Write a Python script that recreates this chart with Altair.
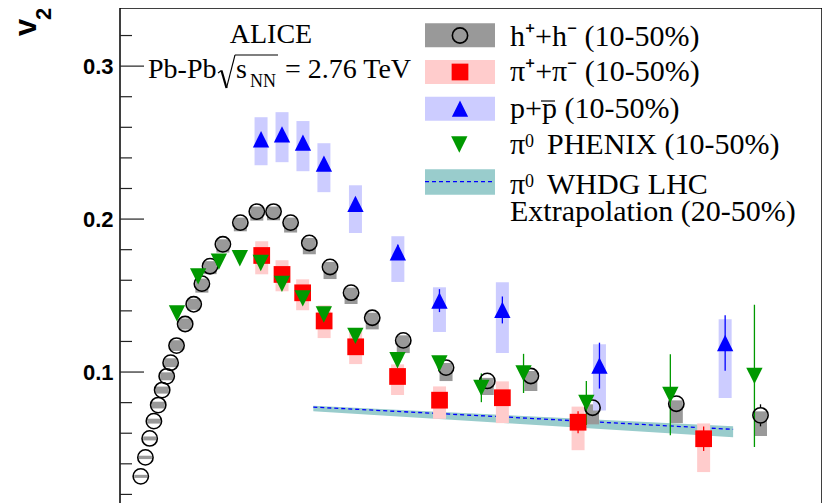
import altair as alt
import pandas as pd

# ---------------- data (pT in GeV/c, v2) ----------------
# charged hadrons h+ + h- (10-50%)
h_pt = [0.376, 0.487, 0.588, 0.689, 0.792, 0.886, 0.994, 1.088, 1.229, 1.434,
        1.638, 1.833, 2.028, 2.334, 2.750, 3.143, 3.542, 3.949, 4.395, 4.889,
        5.390, 5.895, 6.635, 7.655, 8.638, 9.677, 11.148, 13.146, 15.153]
h_v2 = [0.0318, 0.0442, 0.0566, 0.0679, 0.0784, 0.0882, 0.0972, 0.1061, 0.1173, 0.1314,
        0.1443, 0.1578, 0.1692, 0.1835, 0.1977, 0.2049, 0.2049, 0.1977, 0.1844, 0.1687,
        0.1519, 0.1355, 0.1207, 0.1029, 0.0942, 0.0974, 0.0767, 0.0793, 0.0717]
h_sys_dn = [0.0010, 0.0011, 0.0013, 0.0016, 0.0022, 0.0023, 0.0026, 0.0029, 0.0035, 0.0036,
            0.0036, 0.0059, 0.0052, 0.0054, 0.0057, 0.0059, 0.0057, 0.0065, 0.0074, 0.0079,
            0.0074, 0.0076, 0.0083, 0.0088, 0.0092, 0.0098, 0.0109, 0.0127, 0.0135]
h_sys_up = [0.0010, 0.0011, 0.0013, 0.0016, 0.0022, 0.0023, 0.0026, 0.0029, 0.0035, 0.0036,
            0.0036, 0.0033, 0.0033, 0.0033, 0.0033, 0.0033, 0.0033, 0.0033, 0.0033, 0.0033,
            0.0033, 0.0033, 0.0033, 0.0030, 0.0020, 0.0033, 0.0022, 0.0022, 0.0026]
h_err = [0.001, 0.001, 0.001, 0.001, 0.001, 0.001, 0.001, 0.001, 0.001, 0.001,
         0.001, 0.001, 0.001, 0.001, 0.001, 0.001, 0.001, 0.001, 0.001, 0.001,
         0.001, 0.001, 0.002, 0.002, 0.003, 0.003, 0.004, 0.005, 0.0072]

# pions pi+ + pi- (10-50%)
pi_pt = [3.260, 3.744, 4.236, 4.748, 5.500, 6.499, 7.500, 8.998, 10.803, 13.797]
pi_v2 = [0.1762, 0.1638, 0.1518, 0.1334, 0.1165, 0.0971, 0.0816, 0.0832, 0.0672, 0.0564]
pi_sys_lo = [0.1639, 0.1528, 0.1404, 0.1222, 0.1052, 0.0850, 0.0694, 0.0666, 0.0489, 0.0346]
pi_sys_hi = [0.1855, 0.1731, 0.1606, 0.1436, 0.1273, 0.1050, 0.0906, 0.0939, 0.0774, 0.0664]
pi_err = [0.002, 0.002, 0.002, 0.003, 0.003, 0.004, 0.004, 0.005, 0.0072, 0.0080]

# protons p + pbar (10-50%)
p_pt = [3.244, 3.744, 4.243, 4.743, 5.495, 6.506, 7.498, 8.998, 11.313, 14.310]
p_v2 = [0.2522, 0.2554, 0.2500, 0.2362, 0.2099, 0.1783, 0.1467, 0.1406, 0.1042, 0.1190]
p_sys_lo = [0.2352, 0.2372, 0.2313, 0.2176, 0.1909, 0.1589, 0.1262, 0.1124, 0.0749, 0.0830]
p_sys_hi = [0.2666, 0.2699, 0.2641, 0.2496, 0.2221, 0.1888, 0.1554, 0.1587, 0.1182, 0.1345]
p_err = [0.002, 0.002, 0.003, 0.003, 0.004, 0.005, 0.0075, 0.0088, 0.0150, 0.0181]

# PHENIX pi0 (10-50%)
ph_pt = [1.239, 1.744, 2.238, 2.738, 3.237, 3.742, 4.238, 4.741, 5.493, 6.497,
         7.496, 8.497, 9.503, 11.000, 13.003, 15.008]
ph_v2 = [0.1384, 0.1626, 0.1722, 0.1744, 0.1713, 0.1577, 0.1482, 0.1376, 0.1236, 0.1077,
         0.1056, 0.0897, 0.0991, 0.0798, 0.0851, 0.0975]
ph_err = [0.002, 0.002, 0.002, 0.002, 0.002, 0.002, 0.003, 0.003, 0.003, 0.004,
          0.004, 0.0094, 0.0128, 0.0144, 0.0265, 0.0465]

# WHDG LHC extrapolation (20-50%)
wh_pt = [4.49, 8.93, 14.50]
wh_v2 = [0.0771, 0.0708, 0.0625]
wh_lo = [0.0743, 0.0668, 0.0573]
wh_hi = [0.0779, 0.0720, 0.0645]

# axis ticks
major_ticks = [0.1, 0.2, 0.3]
minor_ticks = [0.02, 0.04, 0.06, 0.08, 0.12, 0.14, 0.16, 0.18, 0.22, 0.24, 0.26, 0.28, 0.32]

# ---------------- styling ----------------
W, H = 702, 517
XD = [0, 16.5]
YD = [0, 0.338]
PX_PER_V2 = H / (YD[1] - YD[0])
SERIF = "Liberation Serif"
SANS = "Liberation Sans"
GRAY, PINK, LBLUE, TEAL = "#999999", "#ffcccc", "#ccccff", "#99cccc"
RED, BLUE, GREEN = "#ff0000", "#0000ff", "#009900"
TRI_UP = "M0,-1L1,1L-1,1Z"
TRI_DN = "M-1,-1L1,-1L0,1Z"

xs = alt.Scale(domain=XD, nice=False, zero=False)
ys = alt.Scale(domain=YD, nice=False, zero=False)
YAXIS = alt.Axis(values=major_ticks, format=".1f", ticks=False, domain=False, grid=False,
                 labelFont=SANS, labelFontWeight="bold", labelFontSize=22, labelColor="black",
                 labelPadding=7, title=None)
X = lambda f: alt.X(f, type="quantitative", scale=xs, axis=None)
Y = lambda f: alt.Y(f, type="quantitative", scale=ys, axis=YAXIS)

gap = 8.0 / PX_PER_V2
h = pd.DataFrame({"pt": h_pt, "v2": h_v2})
h["lo"] = [v - d for v, d in zip(h_v2, h_sys_dn)]
h["hi"] = [v + u for v, u in zip(h_v2, h_sys_up)]
h["e_lo"] = [v - e for v, e in zip(h_v2, h_err)]
h["e_hi"] = [v + e for v, e in zip(h_v2, h_err)]
h["g_lo"] = [v - gap for v in h_v2]
h["g_hi"] = [v + gap for v in h_v2]
h_bars = h[[e > gap for e in h_err]]

pi = pd.DataFrame({"pt": pi_pt, "v2": pi_v2, "lo": pi_sys_lo, "hi": pi_sys_hi})
pi["e_lo"] = [v - e for v, e in zip(pi_v2, pi_err)]
pi["e_hi"] = [v + e for v, e in zip(pi_v2, pi_err)]
pr = pd.DataFrame({"pt": p_pt, "v2": p_v2, "lo": p_sys_lo, "hi": p_sys_hi})
pr["e_lo"] = [v - e for v, e in zip(p_v2, p_err)]
pr["e_hi"] = [v + e for v, e in zip(p_v2, p_err)]
ph = pd.DataFrame({"pt": ph_pt, "v2": ph_v2})
ph["e_lo"] = [v - e for v, e in zip(ph_v2, ph_err)]
ph["e_hi"] = [v + e for v, e in zip(ph_v2, ph_err)]
wh = pd.DataFrame({"pt": wh_pt, "v2": wh_v2, "lo": wh_lo, "hi": wh_hi})

layers = []

# inward ticks (these also carry the y axis labels)
layers.append(alt.Chart(pd.DataFrame({"v": major_ticks})).mark_rule(color="#222", strokeWidth=1.2).encode(
    y=Y("v"), x=alt.value(0), x2=alt.value(24)))
layers.append(alt.Chart(pd.DataFrame({"v": minor_ticks})).mark_rule(color="#222", strokeWidth=1.2).encode(
    y=Y("v"), x=alt.value(0), x2=alt.value(12)))

# WHDG band and line
layers.append(alt.Chart(wh).mark_area(color=TEAL, opacity=1).encode(x=X("pt"), y=Y("lo"), y2="hi"))
layers.append(alt.Chart(wh).mark_line(color=BLUE, strokeWidth=1.3, strokeDash=[4, 3]).encode(x=X("pt"), y=Y("v2")))

# systematic boxes
layers.append(alt.Chart(h).mark_bar(color=GRAY, size=13).encode(x=X("pt"), y=Y("lo"), y2="hi"))
layers.append(alt.Chart(pi).mark_bar(color=PINK, size=13).encode(x=X("pt"), y=Y("lo"), y2="hi"))
layers.append(alt.Chart(pr).mark_bar(color=LBLUE, size=13).encode(x=X("pt"), y=Y("lo"), y2="hi"))

# statistical error bars
layers.append(alt.Chart(h_bars).mark_rule(color="black", strokeWidth=1.3).encode(x=X("pt"), y=Y("e_lo"), y2="g_lo"))
layers.append(alt.Chart(h_bars).mark_rule(color="black", strokeWidth=1.3).encode(x=X("pt"), y=Y("g_hi"), y2="e_hi"))
layers.append(alt.Chart(pi).mark_rule(color=RED, strokeWidth=1.3).encode(x=X("pt"), y=Y("e_lo"), y2="e_hi"))
layers.append(alt.Chart(pr).mark_rule(color=BLUE, strokeWidth=1.3).encode(x=X("pt"), y=Y("e_lo"), y2="e_hi"))
layers.append(alt.Chart(ph).mark_rule(color=GREEN, strokeWidth=1.3).encode(x=X("pt"), y=Y("e_lo"), y2="e_hi"))

# markers
layers.append(alt.Chart(h).mark_point(shape="circle", filled=False, color="black", size=234,
                                      strokeWidth=1.6, opacity=1).encode(x=X("pt"), y=Y("v2")))
layers.append(alt.Chart(pi).mark_point(shape="square", filled=True, color=RED, size=280,
                                       opacity=1).encode(x=X("pt"), y=Y("v2")))
layers.append(alt.Chart(pr).mark_point(shape=TRI_UP, filled=True, color=BLUE, size=266,
                                       opacity=1).encode(x=X("pt"), y=Y("v2")))
layers.append(alt.Chart(ph).mark_point(shape=TRI_DN, filled=True, color=GREEN, size=266,
                                       opacity=1).encode(x=X("pt"), y=Y("v2")))

# ---------------- annotations (pixel positions in view) ----------------
one = pd.DataFrame({"a": [0]})


def txt(s, x, y, size=28, font=SERIF, weight="normal", align="left", angle=0):
    return alt.Chart(one).mark_text(text=s, font=font, fontSize=size, fontWeight=weight,
                                    align=align, baseline="alphabetic", angle=angle,
                                    color="black").encode(x=alt.value(x), y=alt.value(y))


def seg(x1, y1, x2, y2, w=1.2, color="black", dash=None):
    kw = {"strokeDash": dash} if dash else {}
    return alt.Chart(one).mark_rule(color=color, strokeWidth=w, **kw).encode(
        x=alt.value(x1), y=alt.value(y1), x2=alt.value(x2), y2=alt.value(y2))


def rect(x1, x2, y1, y2, color):
    return alt.Chart(one).mark_rect(color=color).encode(
        x=alt.value(x1), x2=alt.value(x2), y=alt.value(y1), y2=alt.value(y2))


def sym(x, y, shape, color, size, filled=True):
    return alt.Chart(one).mark_point(shape=shape, filled=filled, color=color, size=size, opacity=1,
                                     strokeWidth=1.6).encode(x=alt.value(x), y=alt.value(y))


# y title v_2 (rotated)
layers.append(txt("v", -84, 28, size=31, font=SANS, weight="bold", angle=270))
layers.append(txt("2", -69, 12, size=22, font=SANS, weight="bold", angle=270))

# ALICE label
layers.append(txt("ALICE", 151, 35, size=28, align="center"))
layers.append(txt("Pb-Pb", 28, 70, size=28))
# radical sign
layers.append(seg(98, 65, 101.5, 62.5, w=1.2))
layers.append(seg(101.5, 62.5, 106.5, 80, w=2.2))
layers.append(seg(106.5, 80, 115, 47, w=1.1))
layers.append(seg(115, 47, 158, 47, w=1.1))
layers.append(txt("s", 116, 70, size=28))
layers.append(txt("NN", 130, 79, size=18))
layers.append(txt("= 2.76 TeV", 165, 70, size=28))

# legend
LX1, LX2, LC = 305, 375, 340
TX = 390
layers.append(rect(LX1, LX2, 15.3, 39.3, GRAY))
layers.append(sym(LC, 27.5, "circle", "black", 234, filled=False))
layers.append(txt("h\u207a+h\u207b (10-50%)", TX, 37.5, size=30))

layers.append(rect(LX1, LX2, 52, 76, PINK))
layers.append(sym(LC, 64, "square", RED, 280))
layers.append(txt("\u03c0\u207a+\u03c0\u207b (10-50%)", TX, 73, size=30))

layers.append(rect(LX1, LX2, 88.7, 112.7, LBLUE))
layers.append(sym(LC, 100.7, TRI_UP, BLUE, 266))
layers.append(txt("p+p (10-50%)", TX, 110, size=30))
layers.append(seg(421, 93, 435, 93, w=1.2))

layers.append(sym(339.3, 136.5, TRI_DN, GREEN, 266))
layers.append(txt("\u03c0", TX, 146, size=30))
layers.append(txt("0", 405, 139, size=18))
layers.append(txt("PHENIX (10-50%)", 427, 146, size=30))

layers.append(rect(LX1, LX2, 161.3, 186.7, TEAL))
layers.append(seg(LX1, 173.7, LX2, 173.7, w=1.3, color=BLUE, dash=[4, 3]))
layers.append(txt("\u03c0", TX, 185.5, size=30))
layers.append(txt("0", 405, 178.5, size=18))
layers.append(txt("WHDG LHC", 427, 185.5, size=30))
layers.append(txt("Extrapolation (20-50%)", TX, 213, size=30))

chart = alt.layer(*layers).properties(
    width=W, height=H,
    autosize=alt.AutoSizeParams(type="none"),
    padding={"left": 112, "top": 0, "right": 0, "bottom": 0},
).configure_view(stroke="black", strokeWidth=1.5)

chart.save("out.html", embed_options={"renderer": "svg", "actions": False})
